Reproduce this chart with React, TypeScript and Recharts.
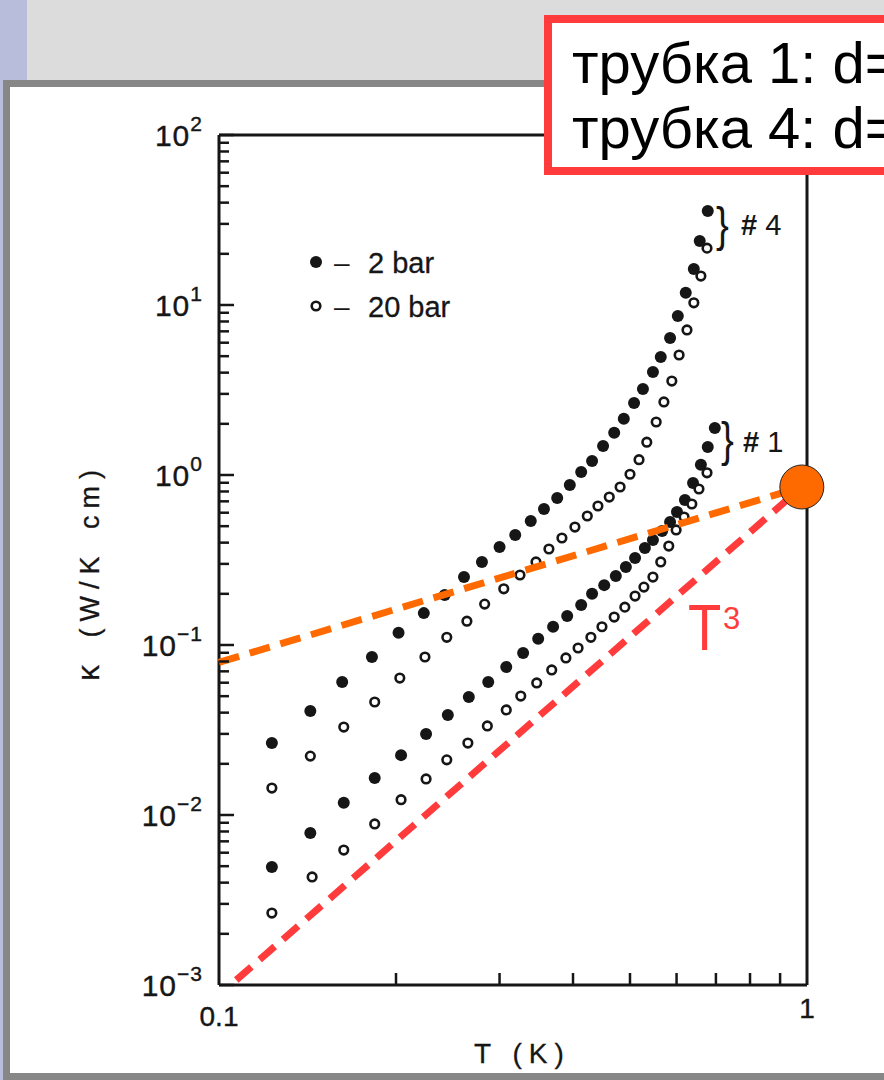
import React from 'react'
import { ScatterChart, Scatter, XAxis, YAxis } from 'recharts'

// tube #4, 2 bar (filled) and 20 bar (open)
const T_TUBE4_2BAR = [0.123, 0.143, 0.162, 0.182, 0.202, 0.223, 0.242, 0.261, 0.28, 0.3, 0.319, 0.339, 0.357, 0.376, 0.395, 0.413, 0.431, 0.45, 0.47, 0.488, 0.508, 0.526, 0.547, 0.564, 0.585, 0.603, 0.622, 0.642, 0.657, 0.678]
const K_TUBE4_2BAR = [0.0265, 0.0409, 0.0606, 0.085, 0.118, 0.154, 0.197, 0.251, 0.308, 0.377, 0.444, 0.536, 0.631, 0.732, 0.873, 1.04, 1.21, 1.48, 1.77, 2.14, 2.65, 3.21, 4.04, 4.94, 6.4, 8.62, 11.8, 16.3, 23.8, 35.7]
const T_TUBE4_20BAR = [0.123, 0.143, 0.163, 0.184, 0.203, 0.224, 0.244, 0.264, 0.283, 0.305, 0.325, 0.346, 0.364, 0.383, 0.403, 0.423, 0.441, 0.461, 0.481, 0.5, 0.518, 0.534, 0.554, 0.571, 0.589, 0.606, 0.625, 0.642, 0.66, 0.676]
const K_TUBE4_20BAR = [0.0144, 0.0222, 0.0329, 0.0462, 0.0639, 0.085, 0.111, 0.138, 0.174, 0.214, 0.258, 0.308, 0.367, 0.426, 0.494, 0.574, 0.657, 0.742, 0.85, 1.01, 1.23, 1.56, 2.05, 2.69, 3.57, 5.08, 7.13, 10.3, 14.8, 21.6]

// tube #1
const T_TUBE1_2BAR = [0.123, 0.143, 0.163, 0.184, 0.204, 0.225, 0.245, 0.266, 0.287, 0.308, 0.329, 0.349, 0.37, 0.391, 0.413, 0.431, 0.452, 0.473, 0.492, 0.51, 0.53, 0.547, 0.567, 0.585, 0.601, 0.62, 0.64, 0.66, 0.678, 0.697]
const K_TUBE1_2BAR = [0.00494, 0.00784, 0.0118, 0.0165, 0.0225, 0.03, 0.0388, 0.0494, 0.0606, 0.0742, 0.0897, 0.109, 0.128, 0.148, 0.172, 0.2, 0.225, 0.255, 0.288, 0.325, 0.372, 0.415, 0.468, 0.529, 0.606, 0.713, 0.897, 1.15, 1.46, 1.89]
const T_TUBE1_20BAR = [0.123, 0.144, 0.163, 0.184, 0.204, 0.225, 0.244, 0.265, 0.286, 0.308, 0.326, 0.347, 0.368, 0.389, 0.408, 0.429, 0.448, 0.47, 0.49, 0.51, 0.528, 0.547, 0.564, 0.582, 0.599, 0.618, 0.637, 0.655, 0.676]
const K_TUBE1_20BAR = [0.00265, 0.00432, 0.00622, 0.00886, 0.0123, 0.0163, 0.0211, 0.0265, 0.0334, 0.0415, 0.0501, 0.0598, 0.0713, 0.0839, 0.096, 0.111, 0.128, 0.146, 0.167, 0.194, 0.219, 0.251, 0.308, 0.382, 0.475, 0.566, 0.675, 0.827, 1.03]

// hand-drawn guide lines (end points) and the marker at T ~ 1 K
const T_ORANGE = [0.1, 0.98]
const K_ORANGE = [0.079, 0.85]
const T_RED = [0.107, 0.98]
const K_RED = [0.00107, 0.85]
const T_MARK = [0.98]
const K_MARK = [0.85]

const X_TICKS = [0.1, 0.2, 0.3, 0.4, 0.5, 0.6, 0.7, 0.8, 0.9, 1]
const X_LABELS: Record<string, string> = { '0.1': '0.1', '1': '1' }
const DECADES = [0.001, 0.01, 0.1, 1, 10]
const MULTS = [1, 2, 3, 4, 5, 6, 7, 8, 9]
const Y_TICKS = [...DECADES.flatMap((d) => MULTS.map((m) => Number((d * m).toPrecision(3)))), 100]

const FONT = '"Liberation Sans", Arial, Helvetica, sans-serif'
const INK = '#161616'
const RED = '#ff3b3b'
const ORANGE = '#ff6a00'
const MARGIN = { top: 135, right: 77, bottom: 95, left: 219 }

const toPoints = (ts: number[], ks: number[]) => ts.map((T, i) => ({ T, k: ks[i] }))

const isMajor = (v: number) => Math.abs(Math.log10(v) - Math.round(Math.log10(v))) < 1e-6

const Filled = (props: any) => <circle cx={props.cx} cy={props.cy} r={6} fill={INK} />
const Open = (props: any) => (
  <circle cx={props.cx} cy={props.cy} r={4.3} fill="#fff" stroke={INK} strokeWidth={2.6} />
)
const Nothing = () => <g />
const Marker = (props: any) => (
  <circle cx={props.cx} cy={props.cy} r={22} fill={ORANGE} stroke="#222" strokeWidth={1} />
)

const decadeLabel = (x: number, y: number, v: number) => {
  const e = Math.round(Math.log10(v))
  const exp = e < 0 ? `\u2212${-e}` : `${e}`
  return (
    <text
      x={x}
      y={y}
      textAnchor="end"
      fill={INK}
      stroke={INK}
      strokeWidth={0.4}
      style={{ fontFamily: FONT, fontSize: 30, letterSpacing: 1 }}
    >
      10
      <tspan dy={-15} style={{ fontSize: 21 }}>
        {exp}
      </tspan>
    </text>
  )
}

const LeftTick = (props: any) => {
  const { x, y, payload } = props
  const major = isMajor(payload.value)
  return (
    <g>
      <line x1={x} x2={x + (major ? 15 : 10)} y1={y} y2={y} stroke={INK} strokeWidth={2.5} />
      {major && decadeLabel(x - 16, y + 11, payload.value)}
    </g>
  )
}

const RightTick = (props: any) => {
  const { x, y, payload } = props
  const major = isMajor(payload.value)
  return <line x1={x} x2={x - (major ? 15 : 10)} y1={y} y2={y} stroke={INK} strokeWidth={2.5} />
}

const BottomTick = (props: any) => {
  const { x, y, payload } = props
  const label = X_LABELS[String(payload.value)]
  const edge = payload.value === 0.1 || payload.value === 1
  return (
    <g>
      {!edge && <line x1={x} x2={x} y1={y} y2={y - 12} stroke={INK} strokeWidth={2.5} />}
      {label && (
        <text
          x={x}
          y={payload.value === 1 ? y + 33 : y + 41}
          textAnchor="middle"
          fill={INK}
          stroke={INK}
          strokeWidth={0.4}
          style={{ fontFamily: FONT, fontSize: 28 }}
        >
          {label}
        </text>
      )}
    </g>
  )
}

const TopTick = (props: any) => {
  const { x, y, payload } = props
  if (payload.value === 0.1 || payload.value === 1) return <g />
  return <line x1={x} x2={x} y1={y} y2={y + 12} stroke={INK} strokeWidth={2.5} />
}

const axisLine = { stroke: INK, strokeWidth: 3 }

const Overlay = () => (
  <svg
    width={884}
    height={1080}
    style={{ position: 'absolute', left: 0, top: 0, pointerEvents: 'none' }}
  >
    {/* legend */}
    <circle cx={316} cy={262} r={6} fill={INK} />
    <text x={334} y={272} fontFamily={FONT} fontSize={28} fill={INK}>–</text>
    <text x={368} y={273} fontFamily={FONT} fontSize={29} fill={INK} stroke={INK} strokeWidth={0.3}>2 bar</text>
    <circle cx={316} cy={306} r={4.3} fill="#fff" stroke={INK} strokeWidth={2.6} />
    <text x={334} y={316} fontFamily={FONT} fontSize={28} fill={INK}>–</text>
    <text x={368} y={317} fontFamily={FONT} fontSize={29} fill={INK} stroke={INK} strokeWidth={0.3}>20 bar</text>

    {/* tube labels */}
    <text transform="translate(716,241) scale(0.8,1)" fontFamily={FONT} fontSize={48} fill={INK}>{'}'}</text>
    <text x={741} y={235} fontFamily={FONT} fontSize={29} fill={INK}>
      <tspan fontWeight="bold">#</tspan> 4
    </text>
    <text transform="translate(721,456) scale(0.8,1)" fontFamily={FONT} fontSize={48} fill={INK}>{'}'}</text>
    <text x={743} y={452} fontFamily={FONT} fontSize={29} fill={INK}>
      <tspan fontWeight="bold">#</tspan> 1
    </text>

    {/* T^3 */}
    <text transform="translate(688,650) scale(0.85,1)" fontFamily={FONT} fontSize={64} fill={RED}>T</text>
    <text x={723} y={629} fontFamily={FONT} fontSize={31} fill={RED}>3</text>

    {/* axis titles */}
    <text x={474} y={1063} fontFamily={FONT} fontSize={28} letterSpacing={7} fill={INK} stroke={INK} strokeWidth={0.3}>
      T (K)
    </text>
    <text
      transform="translate(99,572) rotate(-90)"
      textAnchor="middle"
      fontFamily={FONT}
      fontSize={27}
      letterSpacing={7}
      wordSpacing={6}
      fill={INK}
      stroke={INK}
      strokeWidth={0.3}
    >
      <tspan fontSize={32}>κ</tspan> (W/K cm)
    </text>

    {/* slide caption box */}
    <rect x={548} y={19} width={400} height={152} fill="#fff" stroke={RED} strokeWidth={8} />
    <text x={572} y={83} fontFamily={FONT} fontSize={58} fill="#000">трубка 1: d=</text>
    <text x={572} y={148} fontFamily={FONT} fontSize={58} fill="#000">трубка 4: d=</text>
  </svg>
)

export default function App() {
  return (
    <div
      style={{
        position: 'absolute',
        left: 0,
        top: 0,
        width: 884,
        height: 1080,
        overflow: 'hidden',
        background: '#dcdcdc',
      }}
    >
      <div style={{ position: 'absolute', left: 0, top: 0, width: 27, height: 1080, background: '#b9bddc' }} />
      <div
        style={{
          position: 'absolute',
          left: 3,
          top: 80,
          width: 1000,
          height: 1000,
          boxSizing: 'border-box',
          border: '7px solid #878787',
          background: '#fff',
        }}
      />
      <div style={{ position: 'absolute', left: 0, top: 0 }}>
        <ScatterChart
          width={884}
          height={1080}
          margin={{ top: MARGIN.top - 1, right: MARGIN.right - 1, bottom: MARGIN.bottom - 1, left: MARGIN.left - 1 }}
        >
          <XAxis
            xAxisId="b"
            type="number"
            dataKey="T"
            scale="log"
            domain={[0.1, 1]}
            ticks={X_TICKS}
            interval={0}
            height={1}
            tickSize={0}
            tickMargin={0}
            tickLine={false}
            axisLine={axisLine}
            tick={<BottomTick />}
          />
          <XAxis
            xAxisId="t"
            orientation="top"
            type="number"
            dataKey="T"
            scale="log"
            domain={[0.1, 1]}
            ticks={X_TICKS}
            interval={0}
            height={1}
            tickSize={0}
            tickMargin={0}
            tickLine={false}
            axisLine={axisLine}
            tick={<TopTick />}
          />
          <YAxis
            yAxisId="l"
            type="number"
            dataKey="k"
            scale="log"
            domain={[0.001, 100]}
            ticks={Y_TICKS}
            interval={0}
            width={1}
            tickSize={0}
            tickMargin={0}
            tickLine={false}
            axisLine={axisLine}
            tick={<LeftTick />}
          />
          <YAxis
            yAxisId="r"
            orientation="right"
            type="number"
            dataKey="k"
            scale="log"
            domain={[0.001, 100]}
            ticks={Y_TICKS}
            interval={0}
            width={1}
            tickSize={0}
            tickMargin={0}
            tickLine={false}
            axisLine={axisLine}
            tick={<RightTick />}
          />
          <Scatter xAxisId="b" yAxisId="l" data={toPoints(T_TUBE4_2BAR, K_TUBE4_2BAR)} shape={Filled} isAnimationActive={false} />
          <Scatter xAxisId="b" yAxisId="l" data={toPoints(T_TUBE4_20BAR, K_TUBE4_20BAR)} shape={Open} isAnimationActive={false} />
          <Scatter xAxisId="b" yAxisId="l" data={toPoints(T_TUBE1_2BAR, K_TUBE1_2BAR)} shape={Filled} isAnimationActive={false} />
          <Scatter xAxisId="b" yAxisId="l" data={toPoints(T_TUBE1_20BAR, K_TUBE1_20BAR)} shape={Open} isAnimationActive={false} />
          <Scatter
            xAxisId="b"
            yAxisId="l"
            data={toPoints(T_ORANGE, K_ORANGE)}
            fill={ORANGE}
            line={{ stroke: ORANGE, strokeWidth: 7, strokeDasharray: '21 11' }}
            shape={Nothing}
            isAnimationActive={false}
          />
          <Scatter
            xAxisId="b"
            yAxisId="l"
            data={toPoints(T_RED, K_RED)}
            fill={RED}
            line={{ stroke: RED, strokeWidth: 7, strokeDasharray: '20 11' }}
            shape={Nothing}
            isAnimationActive={false}
          />
        </ScatterChart>
      </div>
      {/* marker layer: same scales, drawn above the axis frame */}
      <div style={{ position: 'absolute', left: 0, top: 0, pointerEvents: 'none' }}>
        <ScatterChart width={884} height={1080} margin={MARGIN}>
          <XAxis type="number" dataKey="T" scale="log" domain={[0.1, 1]} hide />
          <YAxis type="number" dataKey="k" scale="log" domain={[0.001, 100]} hide />
          <Scatter data={toPoints(T_MARK, K_MARK)} shape={Marker} isAnimationActive={false} />
        </ScatterChart>
      </div>
      <Overlay />
    </div>
  )
}
